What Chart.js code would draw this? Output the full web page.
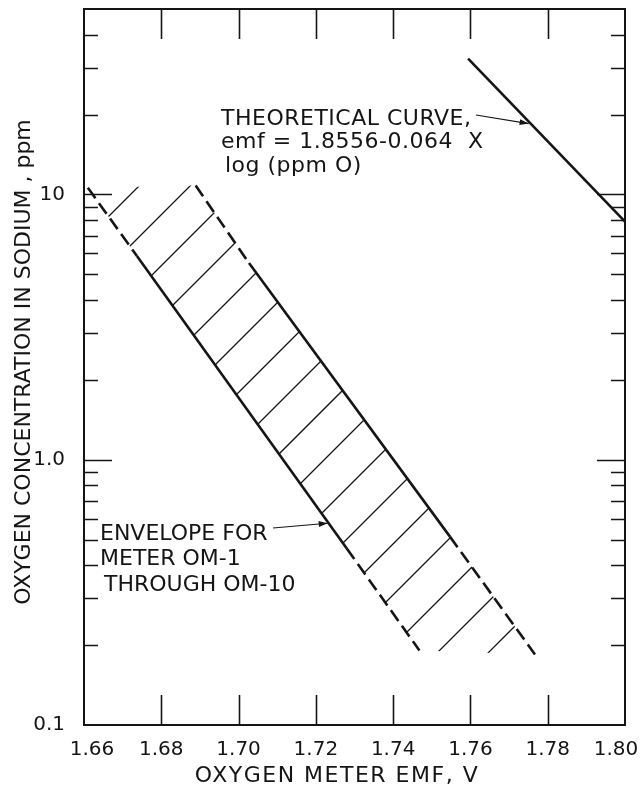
<!DOCTYPE html>
<html>
<head>
<meta charset="utf-8">
<script src="https://cdn.jsdelivr.net/npm/chart.js@4.4.1/dist/chart.umd.min.js"></script>
<style>
  html, body { margin: 0; padding: 0; background: #fff; }
  #wrap { width: 644px; height: 795px; }
</style>
</head>
<body>
<div id="wrap"><canvas id="emfChart" width="644" height="795"></canvas></div>
<script>
// x axis: oxygen meter emf (V), y axis: oxygen in sodium (ppm, log)
var xTicks = [1.66, 1.68, 1.70, 1.72, 1.74, 1.76, 1.78, 1.80];
var xTickLabels = ['1.66', '1.68', '1.70', '1.72', '1.74', '1.76', '1.78', '1.80'];
var yMajorTicks = [0.1, 1, 10];
var yMajorLabels = ['0.1', '1.0', '10'];
var yMinorTicks = [0.2, 0.3, 0.4, 0.5, 0.6, 0.7, 0.8, 0.9, 2, 3, 4, 5, 6, 7, 8, 9, 20, 30, 40];

// theoretical curve, emf = 1.8556 - 0.064 log(ppm O)
var theoryEmf = [1.7594, 1.800];
var theoryPpm = [32.5, 7.9];

// envelope for meters OM-1 .. OM-10, left (low emf) edge
var leftEmf = [1.661, 1.6737, 1.7280, 1.7468];
var leftPpm = [10.6, 5.86, 0.463, 0.191];
var leftDash = [true, false, true];

// envelope, right (high emf) edge
var rightEmf = [1.6889, 1.7027, 1.7547, 1.7767];
var rightPpm = [10.8, 5.51, 0.513, 0.1845];
var rightDash = [true, false, true];

var INK = '#151515';
var FONT = '"DejaVu Sans", "Liberation Sans", sans-serif';

function pts(xs, ys) {
  return xs.map(function (v, i) { return { x: v, y: ys[i] }; });
}

// hatch lines "/" inside the envelope
var hatchPlugin = {
  id: 'hatch',
  beforeDatasetsDraw: function (chart) {
    var ctx = chart.ctx, x = chart.scales.x, y = chart.scales.y;
    var poly = [];
    leftEmf.forEach(function (v, i) { poly.push([x.getPixelForValue(v), y.getPixelForValue(leftPpm[i])]); });
    for (var i = rightEmf.length - 1; i >= 0; i--) {
      poly.push([x.getPixelForValue(rightEmf[i]), y.getPixelForValue(rightPpm[i])]);
    }
    var minS = Infinity, maxS = -Infinity, minY = Infinity, maxY = -Infinity;
    poly.forEach(function (p) {
      minS = Math.min(minS, p[0] + p[1]); maxS = Math.max(maxS, p[0] + p[1]);
      minY = Math.min(minY, p[1]); maxY = Math.max(maxY, p[1]);
    });
    ctx.save();
    ctx.beginPath();
    poly.forEach(function (p, i) { if (i) ctx.lineTo(p[0], p[1]); else ctx.moveTo(p[0], p[1]); });
    ctx.closePath();
    ctx.clip();
    var gap = 51, phase = 19;
    ctx.strokeStyle = INK;
    ctx.lineWidth = 1.3;
    ctx.beginPath();
    for (var s = Math.ceil((minS - phase) / gap) * gap + phase; s < maxS; s += gap) {
      ctx.moveTo(s - minY + 2, minY - 2);
      ctx.lineTo(s - maxY - 2, maxY + 2);
    }
    ctx.stroke();
    ctx.restore();
  }
};

function arrow(ctx, x0, y0, x1, y1) {
  ctx.beginPath();
  ctx.moveTo(x0, y0);
  ctx.lineTo(x1, y1);
  ctx.stroke();
  var a = Math.atan2(y1 - y0, x1 - x0), L = 9, W = 3;
  ctx.beginPath();
  ctx.moveTo(x1, y1);
  ctx.lineTo(x1 - L * Math.cos(a) + W * Math.sin(a), y1 - L * Math.sin(a) - W * Math.cos(a));
  ctx.lineTo(x1 - L * Math.cos(a) - W * Math.sin(a), y1 - L * Math.sin(a) + W * Math.cos(a));
  ctx.closePath();
  ctx.fill();
}

// emf on a straight (log) line through two data points, at a given ppm
function emfAt(xs, ys, ppm) {
  var t = (Math.log10(ppm) - Math.log10(ys[0])) / (Math.log10(ys[1]) - Math.log10(ys[0]));
  return xs[0] + t * (xs[1] - xs[0]);
}

// frame, inward ticks on all four sides, labels and arrows
var framePlugin = {
  id: 'frame',
  afterDraw: function (chart) {
    var ctx = chart.ctx, a = chart.chartArea, x = chart.scales.x, y = chart.scales.y;
    ctx.save();
    ctx.strokeStyle = INK;
    ctx.fillStyle = INK;

    ctx.lineWidth = 1.6;
    xTicks.slice(1, -1).forEach(function (v) {
      var px = Math.round(x.getPixelForValue(v)) + 0.5;
      ctx.beginPath();
      ctx.moveTo(px, a.bottom); ctx.lineTo(px, a.bottom - 30);
      ctx.moveTo(px, a.top); ctx.lineTo(px, a.top + 30);
      ctx.stroke();
    });
    yMajorTicks.slice(1).concat(yMinorTicks).forEach(function (v) {
      var len = yMajorTicks.indexOf(v) >= 0 ? 28 : 14;
      var py = Math.round(y.getPixelForValue(v)) + 0.5;
      ctx.beginPath();
      ctx.moveTo(a.left, py); ctx.lineTo(a.left + len, py);
      ctx.moveTo(a.right, py); ctx.lineTo(a.right - len, py);
      ctx.stroke();
    });

    ctx.lineWidth = 2;
    ctx.strokeRect(a.left, a.top, a.right - a.left, a.bottom - a.top);

    // emf tick labels, the two end ones pulled in a little
    ctx.font = '20px ' + FONT;
    ctx.textAlign = 'center';
    ctx.textBaseline = 'alphabetic';
    xTicks.forEach(function (v, i) {
      var nudge = i === 0 ? 8 : (i === xTicks.length - 1 ? -9 : 0);
      ctx.fillText(xTickLabels[i], x.getPixelForValue(v) + nudge, a.bottom + 30);
    });

    // axis titles
    ctx.font = '22px ' + FONT;
    ctx.letterSpacing = '1.5px';
    ctx.fillText('OXYGEN METER EMF, V', 337, 782);
    ctx.letterSpacing = '0px';
    ctx.save();
    ctx.translate(30, 362);
    ctx.rotate(-Math.PI / 2);
    ctx.fillText('OXYGEN CONCENTRATION IN SODIUM , ppm', 0, 0);
    ctx.restore();

    // notes
    ctx.textAlign = 'left';
    ctx.letterSpacing = '0.5px';
    ctx.fillText('THEORETICAL CURVE,', 221, 125);
    ctx.fillText('emf = 1.8556-0.064  X', 221, 148);
    ctx.fillText('log (ppm O)', 225, 172);
    ctx.letterSpacing = '0px';
    ctx.fillText('ENVELOPE FOR', 100, 540);
    ctx.fillText('METER OM-1', 100, 565);
    ctx.fillText('THROUGH OM-10', 104, 591);

    ctx.lineWidth = 1.2;
    var tipPpm = 18.5;
    arrow(ctx, 476, 115, x.getPixelForValue(emfAt(theoryEmf, theoryPpm, tipPpm)) - 2, y.getPixelForValue(tipPpm));
    var envPpm = 0.576;
    arrow(ctx, 273, 528, x.getPixelForValue(emfAt([leftEmf[1], leftEmf[2]], [leftPpm[1], leftPpm[2]], envPpm)) - 1, y.getPixelForValue(envPpm));
    ctx.restore();
  }
};

function edge(xs, ys, dash) {
  return {
    data: pts(xs, ys),
    showLine: true,
    borderColor: INK,
    borderWidth: 2.6,
    pointRadius: 0,
    tension: 0,
    segment: {
      borderDash: function (c) { return dash[c.p0DataIndex] ? [13, 6] : []; }
    }
  };
}

new Chart(document.getElementById('emfChart'), {
  type: 'scatter',
  data: {
    datasets: [
      { data: pts(theoryEmf, theoryPpm), showLine: true, borderColor: INK, borderWidth: 2.6, pointRadius: 0 },
      edge(leftEmf, leftPpm, leftDash),
      edge(rightEmf, rightPpm, rightDash)
    ]
  },
  options: {
    responsive: false,
    animation: false,
    layout: { padding: { top: 9, right: 19, left: 0, bottom: 0 } },
    plugins: { legend: { display: false }, tooltip: { enabled: false } },
    scales: {
      x: {
        type: 'linear',
        min: 1.66,
        max: 1.80,
        grid: { display: false, drawTicks: false },
        border: { display: false },
        afterBuildTicks: function (s) { s.ticks = xTicks.map(function (v) { return { value: v }; }); },
        afterFit: function (s) { s.height = 70; s.paddingLeft = 0; s.paddingRight = 0; },
        ticks: { display: false }
      },
      y: {
        type: 'logarithmic',
        min: 0.1,
        max: 50,
        grid: { display: false, drawTicks: false },
        border: { display: false },
        afterBuildTicks: function (s) { s.ticks = yMajorTicks.map(function (v) { return { value: v }; }); },
        afterFit: function (s) { s.width = 84; s.paddingTop = 0; s.paddingBottom = 0; },
        ticks: {
          padding: 19,
          color: INK,
          font: { family: FONT, size: 20 },
          autoSkip: false,
          callback: function (v) {
            var i = yMajorTicks.indexOf(v);
            return i >= 0 ? yMajorLabels[i] : '';
          }
        }
      }
    }
  },
  plugins: [hatchPlugin, framePlugin]
});
</script>
</body>
</html>
